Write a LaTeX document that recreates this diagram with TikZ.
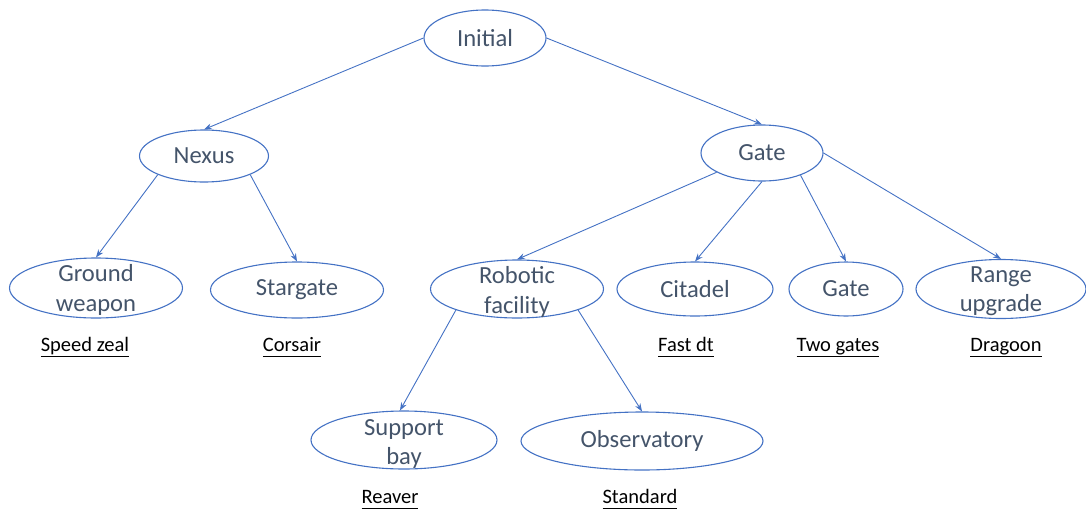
\documentclass[tikz,border=0pt]{standalone}
\usepackage{fontspec}
\setmainfont{Carlito}
\usetikzlibrary{shapes.geometric,arrows.meta}
\definecolor{edgeblue}{HTML}{4472C4}
\definecolor{txtgray}{HTML}{44546A}
\newcommand{\lbl}[1]{\underline{#1\vphantom{gp}}}
\tikzset{
  el/.style={ellipse, draw=edgeblue, line width=1.1pt, inner sep=0pt},
  txt/.style={text=txtgray, align=center, inner sep=0pt, font=\fontsize{24.6}{29.5}\selectfont},
  lab/.style={text=black, inner sep=0pt, anchor=base, font=\fontsize{20.5}{24}\selectfont},
  conn/.style={draw=edgeblue, line width=0.9pt, -{Stealth[length=8pt,width=6pt]}}
}
\begin{document}
\begin{tikzpicture}[x=1pt,y=-1pt]
\useasboundingbox (0,0) rectangle (1086,509);
% ellipses
\node[el, minimum width=122pt, minimum height=56pt] (init) at (485,38) {};
\node[el, minimum width=129pt, minimum height=52pt] (nexus) at (204,156) {};
\node[el, minimum width=122pt, minimum height=56pt] (gate) at (762,153) {};
\node[el, minimum width=173pt, minimum height=60pt] (ground) at (96,288) {};
\node[el, minimum width=173pt, minimum height=56pt] (star) at (297,290) {};
\node[el, minimum width=173pt, minimum height=58pt] (rob) at (517,289) {};
\node[el, minimum width=156pt, minimum height=54pt] (cit) at (695,289) {};
\node[el, minimum width=114pt, minimum height=54pt] (gate2) at (846,289) {};
\node[el, minimum width=170pt, minimum height=59pt] (range) at (1001,289) {};
\node[el, minimum width=186pt, minimum height=58pt] (sup) at (404,440) {};
\node[el, minimum width=242pt, minimum height=58pt] (obs) at (642,441) {};
% texts
\node[txt] (tinit) at (init) {Initial};
\node[txt] (tnexus) at (nexus) {Nexus};
\node[txt] (tgate) at (gate) {Gate};
\node[txt] (tground) at ([yshift=-2pt]ground.center) {Ground\\weapon};
\node[txt] (tstar) at (star) {Stargate};
\node[txt] (trob) at ([yshift=-3pt]rob.center) {Robotic\\facility};
\node[txt] (tcit) at (cit) {Citadel};
\node[txt] (tgate2) at (gate2) {Gate};
\node[txt] (trange) at ([yshift=-2pt]range.center) {Range\\upgrade};
\node[txt] (tsup) at ([yshift=-4pt]sup.center) {Support\\bay};
\node[txt] (tobs) at (obs) {Observatory};
% labels
\node[lab] (l1) at (85,351) {\lbl{Speed zeal}};
\node[lab] (l2) at (292,351) {\lbl{Corsair}};
\node[lab] (l3) at (686,351) {\lbl{Fast dt}};
\node[lab] (l4) at (838,351) {\lbl{Two gates}};
\node[lab] (l5) at (1006,351) {\lbl{Dragoon}};
\node[lab] (l6) at (390,503) {\lbl{Reaver}};
\node[lab] (l7) at (640,503) {\lbl{Standard}};
% connectors
\draw[conn] (init.west) -- (nexus.north);
\draw[conn] (init.east) -- (gate.north);
\draw[conn] (nexus.202) -- (ground.north);
\draw[conn] (nexus.338) -- (star.north);
\draw[conn] (gate.203) -- (rob.north);
\draw[conn] (gate.south) -- (cit.north);
\draw[conn] (gate.330) -- (gate2.north);
\draw[conn] (gate.east) -- (range.north);
\draw[conn] (rob.199) -- ([xshift=-4pt]sup.north);
\draw[conn] (rob.341) -- (obs.north);
\end{tikzpicture}
\end{document}
